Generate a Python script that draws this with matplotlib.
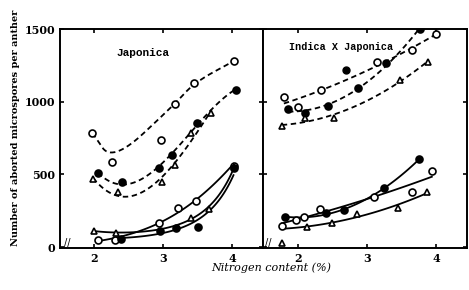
import numpy as np
import matplotlib.pyplot as plt

# Japonica panel
jap_circ_dash_x = [1.97, 2.26, 2.96, 3.17, 3.45, 4.03]
jap_circ_dash_y = [786, 584, 735, 984, 1132, 1281]
jap_fill_dash_x = [2.05, 2.40, 2.94, 3.13, 3.49, 4.05]
jap_fill_dash_y = [507, 447, 546, 637, 854, 1082]
jap_tri_dash_x = [1.98, 2.34, 2.98, 3.17, 3.40, 3.70]
jap_tri_dash_y = [466, 379, 447, 562, 786, 922]

jap_circ_solid_x = [2.05, 2.30, 2.94, 3.21, 3.47, 4.02]
jap_circ_solid_y = [50, 50, 169, 267, 317, 557]
jap_tri_solid_x = [1.99, 2.32, 3.40, 3.67, 4.02]
jap_tri_solid_y = [112, 100, 203, 265, 550]
jap_fill_solid_x = [2.38, 2.95, 3.18, 3.50, 4.02]
jap_fill_solid_y = [59, 110, 135, 139, 545]

# Indica x Japonica panel
ij_circ_dash_x = [1.80, 2.00, 2.33, 3.14, 3.65, 4.00]
ij_circ_dash_y = [1030, 964, 1078, 1272, 1356, 1464]
ij_fill_dash_x = [1.86, 2.11, 2.44, 2.87, 3.27, 3.77]
ij_fill_dash_y = [952, 920, 968, 1094, 1265, 1498]
ij_fill_extra_x = [2.70]
ij_fill_extra_y = [1219]
ij_tri_dash_x = [1.77, 2.11, 2.52, 3.48, 3.88]
ij_tri_dash_y = [831, 888, 888, 1151, 1272]

ij_fill_solid_x = [1.82, 2.41, 2.67, 3.25, 3.75]
ij_fill_solid_y = [208, 233, 256, 404, 603]
ij_circ_solid_x = [1.77, 1.98, 2.09, 2.32, 3.11, 3.65, 3.94]
ij_circ_solid_y = [146, 187, 210, 265, 347, 381, 523]
ij_tri_solid_x = [1.78, 2.13, 2.50, 2.86, 3.45, 3.87]
ij_tri_solid_y = [27, 142, 164, 226, 272, 381]

yticks = [0, 500, 1000, 1500]
xticks = [2, 3, 4]


def chaikin(x, y, n=5):
    pts = np.column_stack([x, y]).astype(float)
    for _ in range(n):
        q = 0.75 * pts[:-1] + 0.25 * pts[1:]
        r = 0.25 * pts[:-1] + 0.75 * pts[1:]
        mid = np.empty((2 * len(q), 2))
        mid[0::2] = q
        mid[1::2] = r
        pts = np.vstack([pts[0], mid, pts[-1]])
    return pts[:, 0], pts[:, 1]


def curve(ax, x, y, marker, fill, ls, deg=3, logfit=False, w=None, smooth=None):
    x = np.array(x, float)
    y = np.array(y, float)
    if smooth is not None:
        xs, ys = chaikin(x[smooth], y[smooth])
    else:
        xs = np.linspace(x.min(), x.max(), 100)
        if logfit:
            c = np.polyfit(x, np.log(y), deg, w=w)
            ys = np.exp(np.polyval(c, xs))
        else:
            c = np.polyfit(x, y, deg, w=w)
            ys = np.polyval(c, xs)
    if ls == '--':
        ax.plot(xs, ys, color='black', lw=1.3, ls='--', dashes=(3, 2))
    else:
        ax.plot(xs, ys, color='black', lw=1.3)
    ax.plot(x, y, ls='none', marker=marker, ms=5, mew=1.2,
            mfc='black' if fill else 'white', mec='black', zorder=3)


fig = plt.figure(figsize=(4.69, 2.9), dpi=100)
ax1 = fig.add_axes([0.128, 0.145, 0.433, 0.755])
ax2 = fig.add_axes([0.561, 0.145, 0.435, 0.755])

curve(ax1, jap_circ_dash_x, jap_circ_dash_y, 'o', False, '--',
      smooth=[0, 1, 3, 4, 5])
curve(ax1, jap_fill_dash_x, jap_fill_dash_y, 'o', True, '--')
curve(ax1, jap_tri_dash_x, jap_tri_dash_y, '^', False, '--')
curve(ax1, jap_circ_solid_x, jap_circ_solid_y, 'o', False, '-', deg=2, logfit=True)
curve(ax1, jap_tri_solid_x, jap_tri_solid_y, '^', False, '-', deg=2, logfit=True)
curve(ax1, jap_fill_solid_x, jap_fill_solid_y, 'o', True, '-', deg=2, logfit=True)

curve(ax2, ij_circ_dash_x, ij_circ_dash_y, 'o', False, '--', deg=2)
curve(ax2, ij_fill_dash_x, ij_fill_dash_y, 'o', True, '--', deg=2)
ax2.plot(ij_fill_extra_x, ij_fill_extra_y, ls='none', marker='o', ms=5,
         mfc='black', mec='black')
curve(ax2, ij_tri_dash_x, ij_tri_dash_y, '^', False, '--', deg=2)
curve(ax2, ij_fill_solid_x, ij_fill_solid_y, 'o', True, '-', deg=2)
curve(ax2, ij_circ_solid_x, ij_circ_solid_y, 'o', False, '-', deg=2)
curve(ax2, ij_tri_solid_x, ij_tri_solid_y, '^', False, '-', deg=2,
      w=[0.1, 1, 1, 1, 1, 1])

for ax in (ax1, ax2):
    ax.set_xlim(1.5, 4.45)
    ax.set_ylim(-5, 1500)
    ax.set_xticks(xticks)
    ax.set_yticks(yticks)
    ax.tick_params(direction='in', top=True, right=True, length=3, width=1.2,
                   labelsize=8)
    for s in ax.spines.values():
        s.set_linewidth(1.4)
    for lab in ax.get_xticklabels() + ax.get_yticklabels():
        lab.set_fontweight('bold')
        lab.set_family('DejaVu Serif')

ax2.tick_params(labelleft=False)

ax1.text(0.28, 0.89, 'Japonica', transform=ax1.transAxes, fontsize=8,
         family='Liberation Mono', fontweight='bold', va='center')
ax2.text(0.127, 0.92, 'Indica X Japonica', transform=ax2.transAxes,
         fontsize=7.3, family='Liberation Mono', fontweight='bold', va='center')
ax1.text(0.02, 0.0, '//', transform=ax1.transAxes, fontsize=7, va='bottom')
ax2.text(0.01, 0.0, '//', transform=ax2.transAxes, fontsize=7, va='bottom')

fig.text(0.032, 0.558, 'Number of aborted microspores per anther', rotation=90,
         ha='center', va='center', fontsize=7, fontweight='bold',
         family='DejaVu Serif')
fig.text(0.578, 0.076, 'Nitrogen content (%)', ha='center', va='center',
         fontsize=8, style='italic', family='DejaVu Serif')

fig.savefig('out.png', dpi=100)
